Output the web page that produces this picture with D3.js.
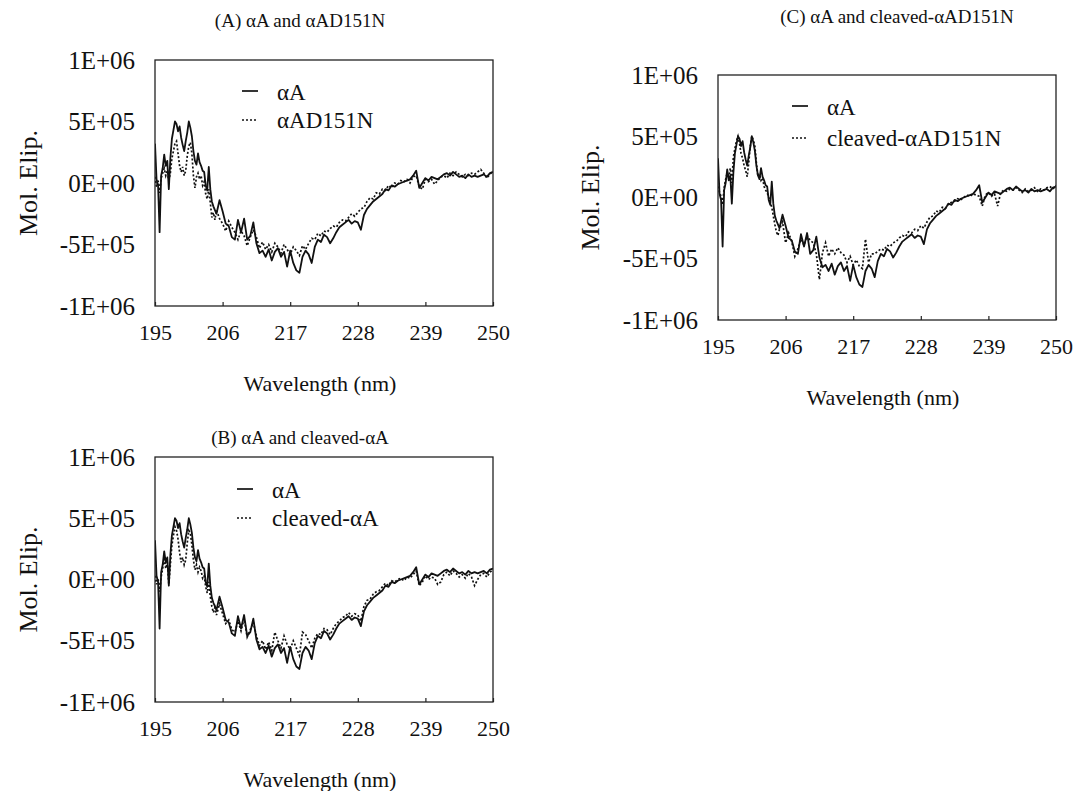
<!DOCTYPE html>
<html>
<head>
<meta charset="utf-8">
<script src="https://cdn.jsdelivr.net/npm/d3@7"></script>
<style>
  html, body { margin: 0; padding: 0; background: #fff; }
  svg { display: block; }
  text { font-family: "Liberation Serif", "DejaVu Serif", serif; fill: #111; }
</style>
</head>
<body>
<svg id="chart" width="1089" height="791"></svg>
<script>
// ---------------- DATA ----------------
// Wavelength sampling (nm)
const wavelengths = [
  195,195.25,195.5,195.75,196,196.25,196.5,196.75,197,197.25,197.5,197.75,198,198.25,198.5,198.75,
  199,199.25,199.5,199.75,200,200.25,200.5,200.75,201,201.25,201.5,201.75,202,202.25,202.5,202.75,
  203,203.25,203.5,203.75,204,204.25,204.5,204.75,205,
  205.5,206,206.5,207,207.5,208,208.5,209,209.5,210,210.5,211,211.5,212,212.5,213,213.5,214,214.5,
  215,215.5,216,216.5,217,217.5,218,218.5,219,219.5,220,220.5,221,221.5,222,222.5,223,223.5,224,224.5,
  225,225.5,226,226.5,227,227.5,228,228.5,229,229.5,230,230.5,231,231.5,232,232.5,233,233.5,234,234.5,
  235,235.5,236,236.5,237,237.5,238,238.5,239,239.5,240,240.5,241,241.5,242,242.5,243,243.5,244,244.5,
  245,245.5,246,246.5,247,247.5,248,248.5,249,249.5,250
];

// Molar ellipticity, in units of 1E+05
const UNIT = 1e5;

const seriesAlphaA = [
  3.2,0.3,-0.2,-4.0,0.6,1.2,2.3,1.4,1.8,-0.5,2.0,3.6,4.3,5.0,4.8,4.2,
  4.6,3.7,3.1,2.6,3.4,4.1,5.0,4.5,3.8,2.6,1.8,1.5,2.4,1.7,1.4,1.0,
  0.9,-0.2,-0.6,1.3,-0.5,-1.5,-1.9,-2.2,-2.5,
  -1.4,-2.3,-3.3,-3.5,-4.4,-4.6,-3.0,-4.0,-2.9,-4.6,-4.3,-3.2,-4.9,-5.7,-5.5,-6.0,-5.4,-6.3,-5.6,
  -5.3,-6.0,-5.6,-6.8,-5.5,-6.5,-7.1,-7.3,-6.0,-5.5,-5.8,-6.5,-5.2,-4.6,-4.8,-4.2,-4.4,-4.9,-4.5,-4.0,
  -3.6,-3.4,-3.2,-3.0,-3.3,-3.1,-3.2,-3.8,-2.6,-2.1,-1.8,-1.5,-1.3,-1.1,-0.9,-0.5,-0.6,-0.2,-0.3,-0.1,
  0.0,0.1,0.2,0.3,0.6,1.0,-0.4,0.0,0.4,0.2,0.5,0.4,0.3,0.5,0.7,0.8,0.6,0.9,0.7,0.5,
  0.6,0.4,0.7,0.5,0.6,0.5,0.6,0.7,0.5,0.8,0.9
];

const seriesAD151N = [
  0.5,-0.3,0.2,-0.8,0.4,0.8,1.2,0.6,1.0,0.2,0.8,2.0,2.6,3.2,3.4,2.4,
  1.4,0.9,1.3,0.6,1.0,2.2,3.0,3.3,2.4,0.6,-0.4,0.5,0.8,0.3,0.6,-0.2,
  0.1,-0.9,-1.3,-0.5,-1.6,-2.8,-2.4,-3.0,-2.2,
  -2.9,-3.3,-3.9,-3.1,-3.6,-4.0,-4.6,-3.9,-4.3,-5.1,-4.4,-3.8,-4.4,-5.3,-4.8,-5.4,-5.0,-5.6,-4.9,
  -5.2,-5.7,-5.0,-5.4,-5.8,-5.2,-5.5,-5.9,-5.1,-5.4,-4.9,-4.5,-4.6,-4.1,-4.3,-3.9,-4.0,-3.7,-3.5,-3.6,
  -3.2,-3.0,-3.1,-2.8,-2.5,-2.7,-2.4,-2.1,-2.0,-1.5,-1.2,-1.3,-0.8,-0.9,-0.5,-0.6,-0.2,-0.4,0.0,-0.1,
  0.2,0.1,0.3,0.0,0.5,0.6,-0.3,-0.5,0.3,0.1,0.3,-0.1,0.2,0.5,0.6,0.4,0.8,0.6,0.9,0.7,
  0.5,0.7,0.6,0.8,0.7,0.9,1.1,0.8,0.4,0.7,1.0
];

const seriesCleavedA = [
  0.3,-0.4,0.1,-1.0,0.2,0.9,1.8,0.9,1.4,-0.4,1.2,2.8,3.6,4.3,4.0,3.3,
  2.2,1.4,1.8,1.2,1.6,3.0,4.0,3.8,2.8,1.6,0.8,1.2,0.6,1.0,0.7,0.1,
  0.3,-0.6,-1.1,-0.2,-1.4,-2.2,-2.7,-2.3,-2.9,
  -2.0,-2.8,-3.6,-3.3,-4.1,-4.3,-3.4,-4.2,-3.2,-4.7,-4.1,-3.5,-4.6,-5.4,-5.0,-5.7,-5.1,-5.8,-4.3,
  -5.0,-5.6,-4.6,-5.3,-5.7,-5.0,-5.6,-6.2,-4.3,-4.5,-5.0,-5.6,-4.8,-4.4,-4.5,-4.0,-4.1,-4.5,-4.0,-3.6,
  -3.4,-3.1,-3.0,-2.7,-3.0,-2.8,-2.9,-3.4,-2.2,-1.7,-1.6,-1.2,-1.0,-0.9,-0.6,-0.3,-0.5,-0.1,-0.2,0.0,
  0.1,-0.1,0.2,0.1,0.4,0.7,-0.5,-0.2,0.3,0.0,0.2,0.1,-0.4,-0.2,0.4,0.6,0.3,0.7,0.5,0.2,
  0.4,0.1,0.5,0.2,-0.5,0.0,0.4,0.5,0.2,0.6,0.8
];

const seriesCleavedAD151N = [
  0.9,0.4,0.1,-0.6,0.8,1.5,2.0,1.6,2.4,1.2,3.3,4.0,4.6,5.0,4.4,3.6,
  3.2,2.6,2.2,1.7,2.8,4.2,5.0,4.7,4.2,2.8,1.7,1.9,1.4,1.6,0.9,0.6,
  0.4,0.0,-0.4,-0.8,-1.5,-2.2,-2.8,-3.1,-2.6,
  -2.0,-3.7,-2.9,-3.6,-4.8,-4.2,-3.4,-3.9,-3.1,-3.5,-3.7,-4.6,-6.7,-4.5,-3.7,-4.8,-4.2,-4.6,-4.1,
  -4.5,-4.7,-5.3,-4.8,-5.5,-5.1,-5.6,-5.8,-3.4,-5.3,-4.6,-4.6,-4.4,-4.2,-4.3,-3.9,-4.0,-3.7,-3.6,-3.3,
  -3.1,-3.2,-2.8,-2.9,-2.6,-2.7,-2.3,-2.5,-2.0,-1.6,-1.5,-1.1,-1.2,-0.8,-0.9,-0.5,-0.4,-0.3,-0.1,-0.2,
  0.0,0.2,0.1,0.3,0.2,0.1,-0.7,0.2,0.4,0.1,0.3,-0.7,0.4,0.6,0.5,0.7,0.6,0.8,0.6,0.4,
  0.7,0.5,0.6,0.8,0.5,0.7,0.6,0.8,0.9,0.7,1.0
];

const xTickValues = [195, 206, 217, 228, 239, 250];
const yTickValues = [1e6, 5e5, 0, -5e5, -1e6];
const yTickLabels = ["1E+06", "5E+05", "0E+00", "-5E+05", "-1E+06"];

const panelTitles = ["(A) \u03B1A and \u03B1AD151N", "(B) \u03B1A and cleaved-\u03B1A", "(C) \u03B1A and cleaved-\u03B1AD151N"];
const legendSolid = ["\u03B1A", "\u03B1A", "\u03B1A"];
const legendDotted = ["\u03B1AD151N", "cleaved-\u03B1A", "cleaved-\u03B1AD151N"];
const dottedSeries = [seriesAD151N, seriesCleavedA, seriesCleavedAD151N];
const xAxisTitle = "Wavelength (nm)";
const yAxisTitle = "Mol. Elip.";

// ---------------- LAYOUT ----------------
const FONT = "'Liberation Serif', 'DejaVu Serif', serif";
const layouts = [
  { left: 155, top: 60,  w: 338, h: 246, titleX: 300, titleY: 20,  legX: 87, legY1: 31, legY2: 60, yTitleX: 28 },
  { left: 155, top: 457, w: 338, h: 245, titleX: 300, titleY: 437, legX: 82, legY1: 32, legY2: 61, yTitleX: 28 },
  { left: 718, top: 75,  w: 338, h: 245, titleX: 897, titleY: 16,  legX: 74, legY1: 31, legY2: 63, yTitleX: 590 }
];

const svg = d3.select("#chart");

function txt(sel, size) {
  return sel.attr("font-family", FONT).style("font-family", FONT).style("font-size", size + "px").attr("fill", "#111");
}

layouts.forEach((L, i) => {
  const x = d3.scaleLinear().domain([195, 250]).range([L.left, L.left + L.w]);
  const y = d3.scaleLinear().domain([-1e6, 1e6]).range([L.top + L.h, L.top]);

  const g = svg.append("g");

  // Title
  txt(g.append("text")
    .attr("x", L.titleX).attr("y", L.titleY)
    .attr("dy", "0.35em")
    .attr("text-anchor", "middle"), 19)
    .text(panelTitles[i]);

  const clipId = "clip" + i;
  svg.append("clipPath").attr("id", clipId)
    .append("rect").attr("x", L.left).attr("y", L.top).attr("width", L.w).attr("height", L.h);

  const line = d3.line()
    .x((d, k) => x(wavelengths[k]))
    .y(d => y(d * UNIT));

  // dotted series
  g.append("path")
    .datum(dottedSeries[i])
    .attr("clip-path", `url(#${clipId})`)
    .attr("d", line)
    .attr("fill", "none")
    .attr("stroke", "#111")
    .attr("stroke-width", 1.7)
    .attr("stroke-dasharray", "2,2");

  // solid series
  g.append("path")
    .datum(seriesAlphaA)
    .attr("clip-path", `url(#${clipId})`)
    .attr("d", line)
    .attr("fill", "none")
    .attr("stroke", "#111")
    .attr("stroke-width", 1.8)
    .attr("stroke-linejoin", "round");

  // Frame
  g.append("rect")
    .attr("x", L.left).attr("y", L.top)
    .attr("width", L.w).attr("height", L.h)
    .attr("fill", "none").attr("stroke", "#222").attr("stroke-width", 1.3);

  // X axis (ticks pointing inward)
  const xAxis = d3.axisBottom(x).tickValues(xTickValues).tickSize(-4).tickPadding(18).tickFormat(d3.format("d"));
  const gx = g.append("g").attr("transform", `translate(0,${L.top + L.h})`).call(xAxis);
  gx.attr("font-family", FONT);
  gx.select(".domain").remove();
  gx.selectAll(".tick line").attr("stroke", "#222").attr("stroke-width", 1.2);
  txt(gx.selectAll(".tick text"), 22);

  // Y axis labels (no tick marks)
  const yAxis = d3.axisLeft(y).tickValues(yTickValues).tickSize(0).tickPadding(20)
    .tickFormat((d, k) => yTickLabels[k]);
  const gy = g.append("g").attr("transform", `translate(${L.left},0)`).call(yAxis);
  gy.attr("font-family", FONT);
  gy.select(".domain").remove();
  txt(gy.selectAll(".tick text"), 25);

  // Axis titles
  txt(g.append("text")
    .attr("x", L.left + L.w / 2 - 4).attr("y", L.top + L.h + 77)
    .attr("dy", "0.35em").attr("text-anchor", "middle"), 22)
    .text(xAxisTitle);

  txt(g.append("text")
    .attr("transform", `translate(${L.yTitleX},${L.top + L.h / 2}) rotate(-90)`)
    .attr("dy", "0.35em").attr("text-anchor", "middle"), 26)
    .text(yAxisTitle);

  // Legend
  const lx = L.left + L.legX;
  g.append("line")
    .attr("x1", lx).attr("x2", lx + 16)
    .attr("y1", L.top + L.legY1).attr("y2", L.top + L.legY1)
    .attr("stroke", "#111").attr("stroke-width", 1.7);
  txt(g.append("text")
    .attr("x", lx + 35).attr("y", L.top + L.legY1 + 1)
    .attr("dy", "0.35em"), 23)
    .text(legendSolid[i]);
  g.append("line")
    .attr("x1", lx).attr("x2", lx + 16)
    .attr("y1", L.top + L.legY2).attr("y2", L.top + L.legY2)
    .attr("stroke", "#111").attr("stroke-width", 1.7).attr("stroke-dasharray", "2,2");
  txt(g.append("text")
    .attr("x", lx + 35).attr("y", L.top + L.legY2)
    .attr("dy", "0.35em"), 23)
    .text(legendDotted[i]);
});
</script>
</body>
</html>
